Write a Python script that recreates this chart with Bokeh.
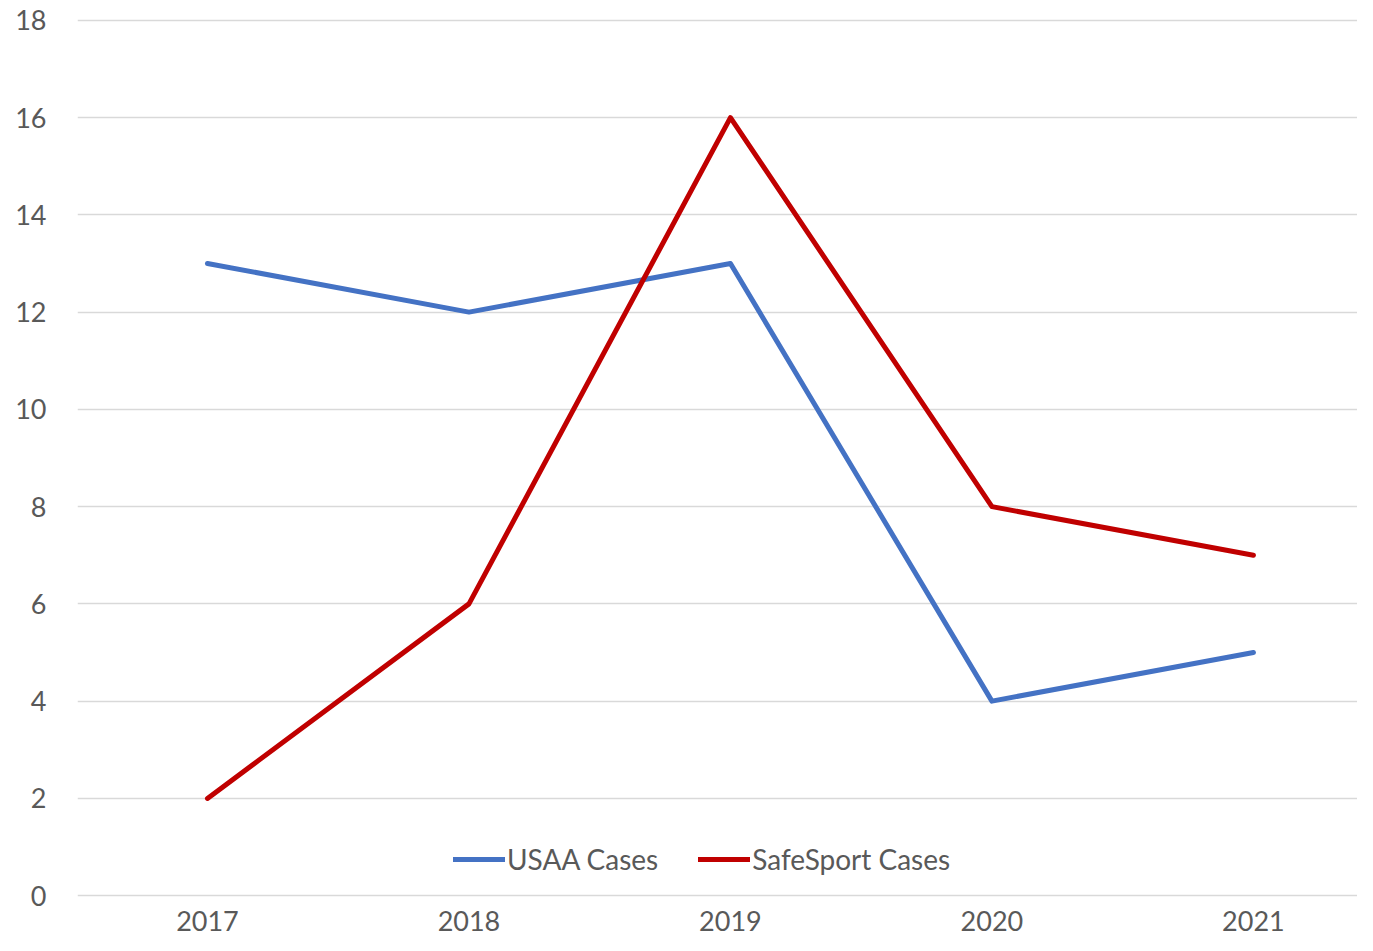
from bokeh.plotting import figure
from bokeh.models import Legend, LegendItem, FixedTicker, ColumnDataSource
from bokeh.embed import file_html
from bokeh.resources import INLINE

years = ["2017", "2018", "2019", "2020", "2021"]
usaa = [13, 12, 13, 4, 5]
safesport = [2, 6, 16, 8, 7]

idx = list(range(len(years)))
src = ColumnDataSource(dict(x=idx, usaa=usaa, safe=safesport))

FONT = "Lato"
GRAY = "#595959"

p = figure(width=1357, height=935, output_backend="svg", toolbar_location=None,
           x_range=(-0.497, 4.398), y_range=(-0.1, 18.1),
           min_border_left=77, min_border_right=0, min_border_top=15, min_border_bottom=35)
p.outline_line_color = None
p.background_fill_color = "white"
p.border_fill_color = "white"

r1 = p.line("x", "usaa", source=src, line_color="#4472C4", line_width=5, line_join="round", line_cap="round")
r2 = p.line("x", "safe", source=src, line_color="#C00000", line_width=5, line_join="round", line_cap="round")

p.xaxis.ticker = FixedTicker(ticks=idx)
p.xaxis.major_label_overrides = {i: y for i, y in zip(idx, years)}
p.yaxis.ticker = FixedTicker(ticks=list(range(0, 19, 2)))

for ax in (p.xaxis[0], p.yaxis[0]):
    ax.axis_line_color = None
    ax.major_tick_line_color = None
    ax.minor_tick_line_color = None
    ax.major_label_text_font = FONT
    ax.major_label_text_font_size = "27px"
    ax.major_label_text_color = GRAY
p.xaxis.major_label_standoff = 4
p.yaxis.major_label_standoff = 25

p.xgrid.grid_line_color = None
p.ygrid.grid_line_color = "#D9D9D9"
p.ygrid.grid_line_width = 1.5

legend = Legend(items=[LegendItem(label="USAA Cases", renderers=[r1]),
                       LegendItem(label="SafeSport Cases", renderers=[r2])],
                orientation="horizontal", location=(376, 24),
                border_line_color=None, background_fill_alpha=0,
                padding=0, margin=0, spacing=40, label_standoff=2,
                glyph_width=52, glyph_height=28, label_height=28,
                label_text_font=FONT, label_text_font_size="28px",
                label_text_color=GRAY)
p.add_layout(legend, "center")

open("out.html", "w").write(file_html(p, INLINE))
